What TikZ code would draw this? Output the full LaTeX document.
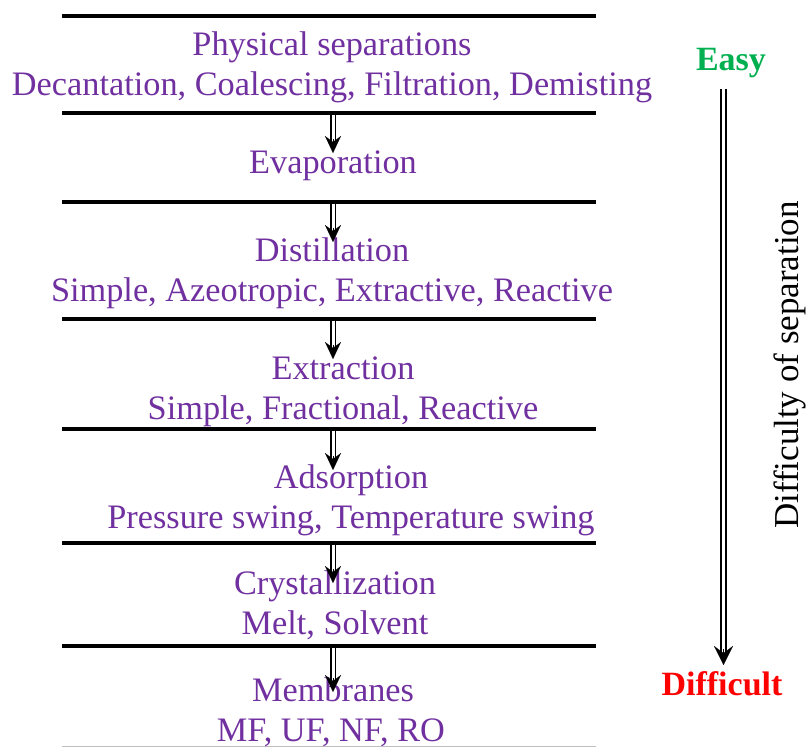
\documentclass[tikz,border=0pt]{standalone}
\usepackage{fontspec}
\setmainfont{Liberation Serif}
\usetikzlibrary{arrows.meta,calc}
\definecolor{txtpurple}{RGB}{112,48,160}
\definecolor{easygreen}{RGB}{0,176,80}
\definecolor{hardred}{RGB}{255,0,0}
\tikzset{
  sep/.style={line width=3.2pt, black},
  lbl/.style={text=txtpurple, font=\fontsize{34.3}{40}\selectfont, inner sep=0pt, anchor=base},
  shaft/.style={double=white, double distance=3pt, line width=1.9pt, black},
  tip/.style={-{Stealth[length=17pt, width=16pt, inset=6pt]}, line width=0.1pt, black},
  bigtip/.style={-{Stealth[length=19pt, width=19pt, inset=7pt]}, line width=0.1pt, black}
}
\begin{document}
\begin{tikzpicture}[x=1pt,y=-1pt]
\useasboundingbox (0,0) rectangle (809,748);
% separator lines
\foreach \n/\y/\len in {l0/16/0,l1/113/40,l2/202/40,l3/319/40,l4/429/41,l5/543/40,l6/646/46}{
  \coordinate (\n a) at (62,\y);
  \coordinate (\n b) at (596,\y);
  \coordinate (\n m) at (333,\y);
  \coordinate (\n t) at (333,\y+\len);
  \draw[sep] (\n a) -- (\n b);
}
\coordinate (l7a) at (62,746.5);
\coordinate (l7b) at (596,746.5);
\draw[line width=1pt, black!25] (l7a) -- (l7b);
% labels
\node[lbl] (t1) at (332,55) {Physical separations};
\node[lbl] (t1b) at (332,95) {Decantation, Coalescing, Filtration, Demisting};
\node[lbl] (t2) at (333,173) {Evaporation};
\node[lbl] (t3) at (332,261) {Distillation};
\node[lbl] (t3b) at (332,301) {Simple, Azeotropic, Extractive, Reactive};
\node[lbl] (t4) at (343,379) {Extraction};
\node[lbl] (t4b) at (343,419) {Simple, Fractional, Reactive};
\node[lbl] (t5) at (351,488) {Adsorption};
\node[lbl] (t5b) at (351,528) {Pressure swing, Temperature swing};
\node[lbl] (t6) at (335,594) {Crystallization};
\node[lbl] (t6b) at (335,634) {Melt, Solvent};
\node[lbl] (t7) at (333,701) {Membranes};
\node[lbl] (t7b) at (331,741) {MF, UF, NF, RO};
% small arrows
\foreach \n in {l1,l2,l3,l4,l5,l6}{
  \draw[shaft] ($(\n m)+(0,1.5)$) -- ($(\n t)+(0,-10)$);
  \draw[tip] ($(\n t)+(0,-14)$) -- (\n t);
}
% right side
\node[font=\bfseries\fontsize{34}{40}\selectfont, text=easygreen, inner sep=0pt, anchor=base] (easy) at (731,70) {Easy};
\node[font=\bfseries\fontsize{34}{40}\selectfont, text=hardred, inner sep=0pt, anchor=base] (hard) at (722,695) {Difficult};
\coordinate (va) at (723.5,89);
\coordinate (vt) at (723.5,665);
\draw[shaft] (va) -- ($(vt)+(0,-11)$);
\draw[bigtip] ($(vt)+(0,-16)$) -- (vt);
\node[rotate=90, font=\fontsize{35}{40}\selectfont, inner sep=0pt, anchor=base] (diff) at (798,365) {Difficulty of separation};
\end{tikzpicture}
\end{document}
